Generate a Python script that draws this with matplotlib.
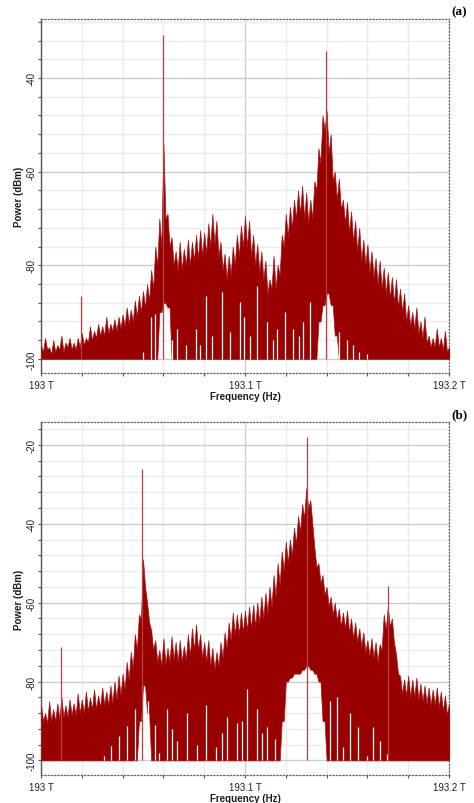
import numpy as np
import matplotlib.pyplot as plt
from matplotlib.ticker import MultipleLocator, FixedLocator

plt.rcParams['font.family'] = ['Liberation Sans', 'DejaVu Sans']
plt.rcParams['axes.unicode_minus'] = False

# spectra every 2 GHz from 193.000 THz:
# spike tips (top), valleys between tips (notch, 1 GHz later) and trace floor (low)
step_thz = 0.002

top_a = [-97, -95.5, -97.5, -96, -97, -95, -96.5, -95.5, -96.5, -95.5,
         -94.5, -95.5, -93, -94, -92.5, -93, -91, -92.5, -91.5, -91,
         -90.5, -89, -89.5, -87.5, -86.5, -85.5, -84, -81, -76, -70,
         -54, -69, -74, -77, -75, -76.5, -74.5, -75, -73.5, -72.5,
         -73, -71, -69, -70.5, -75, -77.5, -78, -76, -73.5, -71.5,
         -69.5, -70.5, -73.5, -75.5, -77, -79, -83, -78, -80, -73.5,
         -69, -67.5, -66, -64, -63, -64.5, -66, -62, -55, -48,
         -47, -52, -60, -61.5, -66, -66.5, -68.5, -70.5, -72, -74.5,
         -75.5, -77, -78.5, -79, -80.5, -81.5, -82.5, -83, -85, -86,
         -88.5, -90, -89, -92, -91, -95, -95.5, -93.5, -95.5, -94,
         -97.5]
notch_a = [-98.5, -98, -99, -98.5, -98, -98.5, -97.5, -98, -98, -97.5,
           -97, -96.5, -96, -95.5, -95, -95, -94.5, -94, -94, -93.5,
           -93, -92.5, -92, -91, -90, -89, -87.5, -85, -80, -76,
           -70, -76, -80, -81, -81, -80, -80, -79, -78.5, -78,
           -77.5, -76, -75.5, -78, -81, -83, -82, -80, -78, -76,
           -76, -78, -80, -81.5, -83, -86, -85, -85, -82, -76,
           -74, -72, -70, -69, -70, -71, -70, -64, -58, -51,
           -56, -62, -66, -68, -71, -73, -75, -77, -79, -80,
           -81.5, -82.5, -84, -85, -86, -87, -88, -89, -90, -92,
           -93, -93.5, -94.5, -95.5, -96.5, -97.5, -97.5, -97.5, -98, -98.5,
           -99]
low_a = [-100] * 29 + [-90, -88, -89] + [-100] * 36 + [-92, -88.5, -86, -88.5, -95] + [-100] * 28
spike_freq_a = [193.0195, 193.0596, 193.1398]
spike_power_a = [-86.6, -30.8, -34.2]
# white gaps: places where the trace never drops to the floor
gap_freq_a = [193.050, 193.054, 193.056, 193.064, 193.0665, 193.071, 193.076, 193.081,
              193.084, 193.0886, 193.0926, 193.0975, 193.1025, 193.106, 193.1107,
              193.1155, 193.1196, 193.1235, 193.1286, 193.1318, 193.146, 193.150,
              193.153, 193.156, 193.160, 193.078, 193.0995, 193.1135, 193.1265]
gap_level_a = [-98.5, -91, -90.5, -96, -93.5, -97, -93.5, -86.5,
               -95, -85.8, -94.2, -87.8, -95, -84.5, -92.2,
               -93.5, -90, -93.5, -92.2, -87.8, -94.2, -96,
               -97, -98.5, -99, -97, -91, -96, -95]

top_b = [-86, -88, -85, -87, -85.5, -84, -86, -84.5, -85.5, -83,
         -84.5, -82.5, -84, -82, -83.5, -81.5, -82.5, -81, -80, -78.5,
         -78, -75, -72.5, -68, -63, -49, -60, -67, -69.5, -72,
         -69, -71.5, -68.5, -70, -69.5, -71, -68, -66.5, -65.5, -68,
         -70, -69.5, -71.5, -72.5, -70, -67.5, -65, -62.5, -63, -62.5,
         -62, -61, -60.5, -60, -58.5, -57.5, -56, -53, -50, -47,
         -44.5, -44, -41, -38, -35, -31, -34, -46, -50, -53,
         -56, -58.5, -60, -61.5, -62.5, -62, -64, -65, -66.5, -67.5,
         -69.5, -69, -70, -70.5, -63, -61, -64, -73, -78.5, -79.5,
         -78.5, -79.5, -79, -80.5, -81, -81.5, -82, -81.5, -82.5, -83.5,
         -85.5]
notch_b = [-90, -90.5, -90, -90, -89.5, -89, -89, -88.5, -88.5, -88,
           -88, -87.5, -87, -87, -86.5, -86, -86, -85.5, -84.5, -83.5,
           -82, -79.5, -76.5, -72, -64, -56, -65, -72, -75, -76,
           -75.5, -75, -74.5, -75, -75, -74.5, -73.5, -72, -72, -74,
           -75, -76, -77, -76, -74, -71.5, -69.5, -68, -68, -67.5,
           -67, -66.5, -66, -65, -64, -62.5, -61, -58.5, -55.5, -52,
           -50, -48, -45, -42, -38.5, -36, -40, -51, -55, -58,
           -61, -63, -64.5, -66, -66.5, -67.5, -69, -70, -71, -72.5,
           -73.5, -74, -75, -72, -67, -66, -70, -78, -83, -83.5,
           -84, -84, -84.5, -85, -85.5, -86, -86, -86.5, -87.5, -88.5,
           -90]
low_b = ([-100] * 24 + [-90, -81, -88] + [-100] * 32
         + [-90, -80, -79, -78, -78, -77, -76, -77, -78, -80, -90] + [-100] * 31)
spike_freq_b = [193.0096, 193.0497, 193.1302, 193.1701]
spike_power_b = [-71.2, -26.2, -18.0, -55.8]
gap_freq_b = [193.031, 193.0345, 193.038, 193.042, 193.046, 193.0525, 193.056, 193.058,
              193.0616, 193.0665, 193.0715, 193.0763, 193.081, 193.086, 193.091,
              193.096, 193.101, 193.106, 193.1106, 193.1147, 193.138, 193.1417,
              193.145, 193.148, 193.1515, 193.1556, 193.1596, 193.1629, 193.166,
              193.1695, 193.064, 193.0885, 193.0985, 193.1085]
gap_level_b = [-98.8, -96.3, -93.8, -91.3, -87, -85, -91, -98,
               -87, -95, -88, -96, -86, -96.5, -89,
               -90.5, -82, -87, -91.5, -94.5, -93, -85,
               -84, -96.5, -88, -91.5, -99, -91.5, -95,
               -98.5, -92, -93, -90, -93]

x_ticks = [193.0, 193.1, 193.2]
x_tick_labels = ['193 T', '193.1 T', '193.2 T']

W, H = 474, 804
fig = plt.figure(figsize=(W / 100, H / 100), dpi=100)


def draw_panel(top_px, bot_px, top, notch, low, spike_f, spike_p, gap_f, gap_p,
               ylim, yticks, tag):
    ax = fig.add_axes([41 / W, 1 - bot_px / H, 408 / W, (bot_px - top_px) / H])
    f = 193.0 + step_thz * np.arange(len(top))
    xs = np.column_stack([f, f + step_thz / 2]).ravel()
    ys_top = np.column_stack([top, notch]).ravel()
    ys_low = np.column_stack([low, low]).ravel()
    ax.fill_between(xs, ys_low, ys_top, color='#990000', lw=0.5, edgecolor='#a31515', zorder=3)
    ax.vlines(gap_f, -100, gap_p, color='white', lw=0.9, zorder=3.5)
    ax.vlines(spike_f, -100, spike_p, color='#b84040', lw=0.9, zorder=4)

    ax.set_xlim(193.0, 193.2)
    ax.set_ylim(*ylim)
    ax.xaxis.set_major_locator(FixedLocator(x_ticks))
    ax.set_xticklabels(x_tick_labels)
    ax.xaxis.set_minor_locator(MultipleLocator(0.02))
    ax.yaxis.set_major_locator(FixedLocator(yticks))
    ax.yaxis.set_minor_locator(MultipleLocator(4))
    ax.grid(which='major', color='#cccccc', lw=1.0)
    ax.grid(which='minor', color='#ebebeb', lw=1.0)
    ax.set_axisbelow(True)

    ax.tick_params(which='both', direction='out', length=2.5, width=0.8,
                   color='#555555', labelsize=7, labelcolor='#222222')
    ax.tick_params(axis='x', pad=2.5)
    ax.tick_params(axis='y', pad=1)
    for lab in ax.get_yticklabels():
        lab.set_rotation(90)
        lab.set_va('center')
    for side in ['top', 'right', 'bottom']:
        ax.spines[side].set_linestyle(':')
        ax.spines[side].set_color('#666666')
        ax.spines[side].set_linewidth(0.9)
    ax.spines['left'].set_color('#555555')
    ax.spines['left'].set_linewidth(1.0)

    mid = (top_px + bot_px) / 2
    fig.text(19 / W, 1 - mid / H, 'Power (dBm)', rotation=90, fontsize=7,
             fontweight='bold', color='#1a1a2a', ha='center', va='center')
    fig.text(245 / W, 1 - (bot_px + 23) / H, 'Frequency (Hz)', fontsize=7,
             fontweight='bold', color='#1a1a2a', ha='center', va='center')
    fig.text(459 / W, 1 - (top_px - 7.5) / H, tag, fontsize=9.5, fontweight='bold',
             family=['Liberation Serif', 'DejaVu Serif'], ha='center', va='center')
    return ax


draw_panel(20, 374, top_a, notch_a, low_a, spike_freq_a, spike_power_a,
           gap_freq_a, gap_level_a, (-103.0, -27.4), [-100, -80, -60, -40], '(a)')
draw_panel(423, 776, top_b, notch_b, low_b, spike_freq_b, spike_power_b,
           gap_freq_b, gap_level_b, (-103.7, -14.2), [-100, -80, -60, -40, -20], '(b)')

fig.savefig('out.png', dpi=100)
